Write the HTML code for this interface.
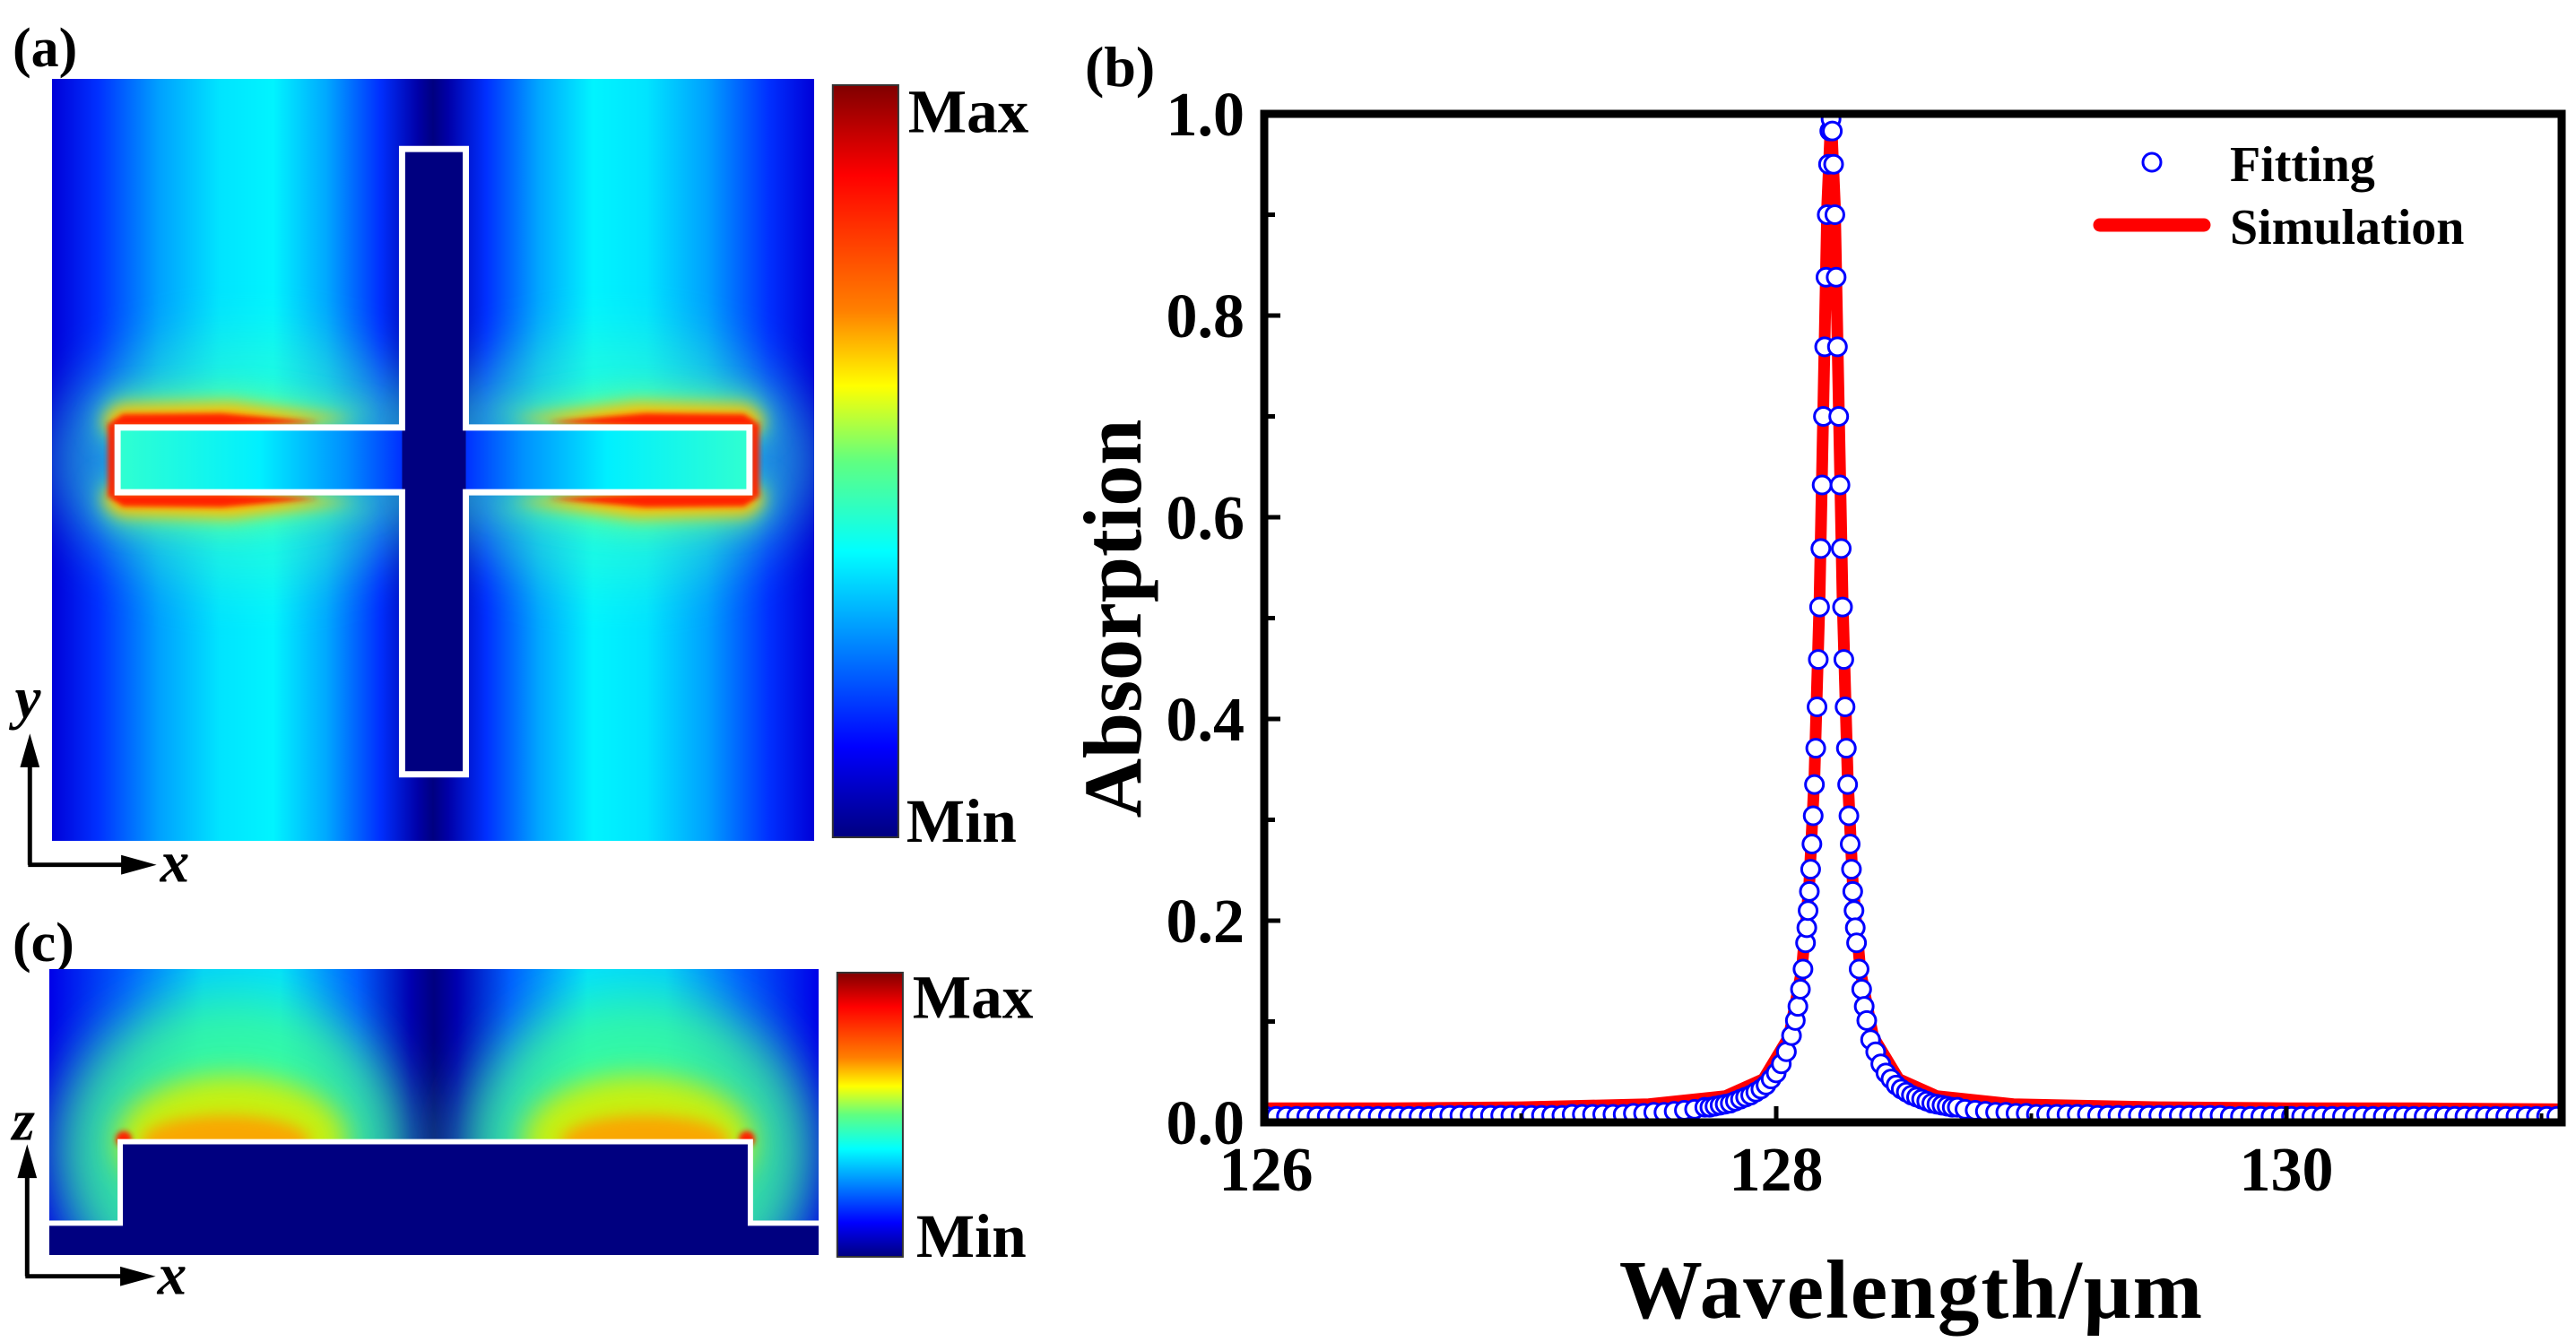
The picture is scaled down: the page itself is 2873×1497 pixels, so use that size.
<!DOCTYPE html>
<html><head><meta charset="utf-8"><style>
html,body{margin:0;padding:0;background:#fff;}
svg{display:block;}
svg text{font-family:"Liberation Serif","DejaVu Serif","Times New Roman",serif !important;font-weight:bold;fill:#000;}
</style></head><body>
<svg id="fig" width="2873" height="1497" viewBox="0 0 2873 1497" xmlns="http://www.w3.org/2000/svg" font-family="Liberation Serif, DejaVu Serif, serif">
<defs>
<linearGradient id="gA" x1="0" x2="1" y1="0" y2="0">
<stop offset="0" stop-color="#0000d8"/><stop offset="0.06" stop-color="#0030ff"/><stop offset="0.14" stop-color="#00a0ff"/><stop offset="0.22" stop-color="#00e4ff"/><stop offset="0.29" stop-color="#00f4ff"/><stop offset="0.36" stop-color="#00a8ff"/><stop offset="0.43" stop-color="#0030ff"/><stop offset="0.48" stop-color="#0000a8"/><stop offset="0.5" stop-color="#000080"/><stop offset="0.52" stop-color="#0000a8"/><stop offset="0.57" stop-color="#0030ff"/><stop offset="0.64" stop-color="#00a8ff"/><stop offset="0.71" stop-color="#00f4ff"/><stop offset="0.78" stop-color="#00e4ff"/><stop offset="0.86" stop-color="#00a0ff"/><stop offset="0.94" stop-color="#0030ff"/><stop offset="1" stop-color="#0000d8"/>
</linearGradient>
<linearGradient id="gC" x1="0" x2="1" y1="0" y2="0">
<stop offset="0" stop-color="#0000e8"/><stop offset="0.1" stop-color="#0060ff"/><stop offset="0.2" stop-color="#00d0ff"/><stop offset="0.3" stop-color="#00e0ff"/><stop offset="0.4" stop-color="#0060ff"/><stop offset="0.47" stop-color="#0000b0"/><stop offset="0.5" stop-color="#000080"/><stop offset="0.53" stop-color="#0000b0"/><stop offset="0.6" stop-color="#0060ff"/><stop offset="0.7" stop-color="#00e0ff"/><stop offset="0.8" stop-color="#00d0ff"/><stop offset="0.9" stop-color="#0060ff"/><stop offset="1" stop-color="#0000e8"/>
</linearGradient>
<linearGradient id="jet" x1="0" x2="0" y1="0" y2="1">
<stop offset="0" stop-color="#800000"/><stop offset="0.12" stop-color="#ff0000"/><stop offset="0.3" stop-color="#ff8000"/><stop offset="0.4" stop-color="#ffff00"/><stop offset="0.5" stop-color="#60ff80"/><stop offset="0.62" stop-color="#00ffff"/><stop offset="0.75" stop-color="#0080ff"/><stop offset="0.88" stop-color="#0000ff"/><stop offset="1" stop-color="#000080"/>
</linearGradient>
<linearGradient id="armFill" x1="0" x2="1" y1="0" y2="0">
<stop offset="0" stop-color="#30ffd0"/><stop offset="0.5" stop-color="#00f0ff"/><stop offset="0.8" stop-color="#0090ff"/><stop offset="1" stop-color="#0030ff"/>
</linearGradient>
<filter id="b3" x="-50%" y="-50%" width="200%" height="200%"><feGaussianBlur stdDeviation="3"/></filter>
<filter id="b8" x="-50%" y="-50%" width="200%" height="200%"><feGaussianBlur stdDeviation="8"/></filter>
<filter id="b15" x="-50%" y="-50%" width="200%" height="200%"><feGaussianBlur stdDeviation="15"/></filter>
<filter id="b30" x="-50%" y="-50%" width="200%" height="200%"><feGaussianBlur stdDeviation="30"/></filter>
<clipPath id="clipA"><rect x="58" y="90" width="860" height="859"/></clipPath>
<clipPath id="clipC"><rect x="56" y="1095" width="868" height="323"/></clipPath>
<clipPath id="clipB"><rect x="1410" y="127" width="1447" height="1125"/></clipPath>
<g id="lobeA">
 <ellipse cx="280" cy="520" rx="230" ry="140" fill="#40ffc0" opacity="0.45" filter="url(#b30)"/>
 <polygon points="112,462 132,446 260,440 440,468 260,496 112,496" fill="#70ff80" opacity="0.7" filter="url(#b15)"/>
 <polygon points="112,578 132,594 260,600 440,572 260,544 112,544" fill="#70ff80" opacity="0.7" filter="url(#b15)"/>
 <polygon points="118,470 134,458 260,455 400,474 260,486 118,486" fill="#ffc000" filter="url(#b8)"/>
 <polygon points="118,570 134,582 260,585 400,566 260,554 118,554" fill="#ffc000" filter="url(#b8)"/>
 <polygon points="126,476 138,468 250,467 360,477 250,482 126,482" fill="#ff2000" filter="url(#b3)"/>
 <polygon points="126,564 138,572 250,573 360,563 250,558 126,558" fill="#ff2000" filter="url(#b3)"/>
 <rect x="121" y="478" width="10" height="84" fill="#ff2000" filter="url(#b3)"/>
</g>
<g id="lobeC">
 <ellipse cx="262" cy="1300" rx="200" ry="175" fill="#40ff90" opacity="0.8" filter="url(#b30)"/>
 <ellipse cx="262" cy="1290" rx="130" ry="75" fill="#d8f000" opacity="0.9" filter="url(#b15)"/>
 <ellipse cx="255" cy="1290" rx="95" ry="30" fill="#ffa000" opacity="0.9" filter="url(#b8)"/>
 <circle cx="140" cy="1287" r="9" fill="#ff2000" filter="url(#b3)"/>
</g>
</defs>

<!-- Panel (a) -->
<text x="14" y="74" font-size="62">(a)</text>
<g transform="matrix(0.9884,0,0,0.9895,0.67,-1.06)">
<g clip-path="url(#clipA)">
 <rect x="58" y="90" width="860" height="859" fill="url(#gA)"/>
 <use href="#lobeA"/>
 <use href="#lobeA" transform="translate(977,0) scale(-1,1)"/>
 <rect x="132" y="483" width="321" height="73" fill="url(#armFill)"/>
 <rect x="525" y="483" width="320" height="73" fill="url(#armFill)" transform="translate(1370,0) scale(-1,1)"/>
 <rect x="453" y="169" width="72" height="705" fill="#000080"/>
 <polygon points="453,169 525,169 525,483 845,483 845,556 525,556 525,874 453,874 453,556 132,556 132,483 453,483" fill="none" stroke="#fff" stroke-width="7"/>
</g>
<rect x="939" y="97" width="74" height="848" fill="url(#jet)" stroke="#333" stroke-width="2"/>
<text x="1024" y="150" font-size="70">Max</text>
<text x="1022" y="950" font-size="70">Min</text>
<g>
 <line x1="33" y1="976" x2="33" y2="860" stroke="#000" stroke-width="5"/>
 <polygon points="33,828 22,866 44,866" fill="#000"/>
 <line x1="31" y1="976" x2="140" y2="976" stroke="#000" stroke-width="5"/>
 <polygon points="176,976 136,965 136,987" fill="#000"/>
 <text x="16" y="810" font-size="66" font-style="italic">y</text>
 <text x="180" y="995" font-size="66" font-style="italic">x</text>
</g>
</g>

<!-- Panel (c) -->
<text x="14" y="1072" font-size="62">(c)</text>
<g transform="matrix(0.9885,0,0,0.9876,-0.36,-0.42)">
<g clip-path="url(#clipC)">
 <rect x="56" y="1095" width="868" height="323" fill="url(#gC)"/>
 <use href="#lobeC"/>
 <use href="#lobeC" transform="translate(983,0) scale(-1,1)"/>
 <polygon points="56,1382 136,1382 136,1290 847,1290 847,1382 924,1382 924,1418 56,1418" fill="#000080"/>
 <polyline points="50,1382 136,1382 136,1290 847,1290 847,1382 930,1382" fill="none" stroke="#fff" stroke-width="6"/>
</g>
<rect x="945" y="1099" width="74" height="321" fill="url(#jet)" stroke="#333" stroke-width="2"/>
<text x="1030" y="1150" font-size="70">Max</text>
<text x="1034" y="1420" font-size="70">Min</text>
<g>
 <line x1="31" y1="1442" x2="31" y2="1325" stroke="#000" stroke-width="5"/>
 <polygon points="31,1293 20,1331 42,1331" fill="#000"/>
 <line x1="29" y1="1442" x2="140" y2="1442" stroke="#000" stroke-width="5"/>
 <polygon points="176,1442 136,1431 136,1453" fill="#000"/>
 <text x="14" y="1288" font-size="66" font-style="italic">z</text>
 <text x="178" y="1462" font-size="66" font-style="italic">x</text>
</g>
</g>

<!-- Panel (b) -->
<text x="1210" y="96" font-size="64">(b)</text>
<g id="chartB">
 <g id="sim" clip-path="url(#clipB)"></g>
 <g id="fit" clip-path="url(#clipB)"></g>
 <rect x="1410" y="127" width="1447" height="1125" fill="none" stroke="#000" stroke-width="9"/>
 <g id="ticks"></g>
 <text x="1242" y="690" font-size="92" text-anchor="middle" transform="rotate(-90 1242 690)" dy="30">Absorption</text>
 <text x="2132" y="1470" font-size="93" text-anchor="middle" letter-spacing="2">Wavelength/μm</text>
 <g>
  <circle cx="2400" cy="181" r="10" fill="#fff" stroke="#0000ff" stroke-width="3"/>
  <text x="2487" y="202" font-size="56">Fitting</text>
  <line x1="2342" y1="251" x2="2458" y2="251" stroke="#ff0000" stroke-width="15" stroke-linecap="round"/>
  <text x="2487" y="272" font-size="56">Simulation</text>
 </g>
</g>
</svg>
<script>
const xTicks = [126, 128, 130];
const xMinor = [127, 129, 131];
const yTicks = [0.0, 0.2, 0.4, 0.6, 0.8, 1.0];
const yTickLabels = ["0.0", "0.2", "0.4", "0.6", "0.8", "1.0"];
const yMinor = [0.1, 0.3, 0.5, 0.7, 0.9];
const simWl = [126, 126.5, 127, 127.5, 127.8, 127.95, 128.05, 128.1, 128.13, 128.15, 128.17, 128.19, 128.2, 128.215, 128.23, 128.24, 128.26, 128.28, 128.3, 128.33, 128.38, 128.48, 128.63, 128.93, 129.5, 130, 130.5, 131.08];
const simAbs = [0.014, 0.014, 0.015, 0.018, 0.026, 0.043, 0.085, 0.150, 0.238, 0.344, 0.520, 0.778, 0.909, 0.998, 0.909, 0.778, 0.520, 0.344, 0.238, 0.150, 0.085, 0.043, 0.026, 0.018, 0.015, 0.014, 0.014, 0.013];
const fitWl = [126.00,126.04,126.08,126.12,126.16,126.20,126.24,126.28,126.32,126.36,126.40,126.44,126.48,126.52,126.56,126.60,126.64,
126.68,126.72,126.76,126.80,126.84,126.88,126.92,126.96,127.00,127.04,127.08,127.12,127.16,
127.20,127.24,127.28,127.32,127.36,127.40,127.44,127.48,127.52,127.56,127.60,127.64,127.68,
127.72,127.74,127.76,127.78,127.80,127.82,127.84,127.86,127.88,127.90,127.92,127.94,127.96,127.98,128.00,128.02,128.04,128.06,
128.075,128.085,128.095,128.105,128.115,128.12,128.125,128.13,128.135,128.14,128.145,128.15,128.155,128.16,128.165,128.17,128.175,128.18,128.185,128.19,128.195,128.20,128.205,128.21,
128.215,
128.22,128.225,128.23,128.235,128.24,128.245,128.25,128.255,128.26,128.265,128.27,128.275,128.28,128.285,128.29,128.295,128.30,128.305,128.31,128.315,128.325,128.335,128.345,128.355,
128.37,128.39,128.41,128.43,128.45,128.47,128.49,128.51,128.53,128.55,128.57,128.59,128.61,128.63,128.65,128.67,128.69,128.71,
128.74,128.78,128.82,128.86,128.90,128.94,128.98,129.02,129.06,129.10,129.14,129.18,129.22,
129.26,129.30,129.34,129.38,129.42,129.46,129.50,129.54,129.58,129.62,129.66,129.70,129.74,
129.78,129.82,129.86,129.90,129.94,129.98,130.02,130.06,130.10,130.14,130.18,130.22,130.26,130.30,130.34,130.38,130.42,130.46,130.50,130.54,130.58,130.62,130.66,130.70,130.74,130.78,130.82,130.86,130.90,130.94,130.98,131.02,131.06];
const fitAbs = [0.006,0.006,0.006,0.006,0.006,0.006,0.006,0.006,0.006,0.006,0.006,0.006,0.006,0.006,0.006,0.006,0.006,
0.007,0.007,0.007,0.007,0.007,0.007,0.007,0.007,0.007,0.007,0.007,0.007,0.007,
0.008,0.008,0.008,0.008,0.008,0.008,0.009,0.009,0.010,0.010,0.011,0.012,0.013,
0.015,0.015,0.016,0.017,0.018,0.019,0.021,0.023,0.025,0.027,0.030,0.033,0.037,0.043,0.049,0.058,0.070,0.086,
0.101,0.115,0.132,0.152,0.178,0.193,0.210,0.229,0.251,0.276,0.304,0.335,0.371,0.412,0.459,0.511,0.569,0.632,0.700,0.769,0.838,0.900,0.950,0.983,
0.995,
0.983,0.950,0.900,0.838,0.769,0.700,0.632,0.569,0.511,0.459,0.412,0.371,0.335,0.304,0.276,0.251,0.229,0.210,0.193,0.178,0.152,0.132,0.115,0.101,
0.082,0.070,0.058,0.049,0.043,0.037,0.033,0.030,0.027,0.025,0.023,0.021,0.019,0.018,0.017,0.016,0.015,0.015,
0.013,0.012,0.011,0.010,0.010,0.009,0.009,0.008,0.008,0.008,0.008,0.008,0.008,
0.007,0.007,0.007,0.007,0.007,0.007,0.007,0.007,0.007,0.007,0.007,0.007,0.007,
0.006,0.006,0.006,0.006,0.006,0.006,0.006,0.006,0.006,0.006,0.006,0.006,0.006,0.006,0.006,0.006,0.006,0.006,0.006,0.006,0.006,0.006,0.006,0.006,0.006,0.006,0.006,0.006,0.006,0.006,0.006,0.006,0.006];

const NS = "http://www.w3.org/2000/svg";
const X0 = 1412, XPX = 284.5, Y0 = 1252, YPX = 1125;
function sx(v){ return X0 + (v - 126) * XPX; }
function sy(v){ return Y0 - v * YPX; }
function mk(tag, attrs){ const e = document.createElementNS(NS, tag); for (const k in attrs) e.setAttribute(k, attrs[k]); return e; }

const sim = document.getElementById('sim');
const simLine = mk('polyline', {points: simWl.map((w,i)=>sx(w)+','+sy(simAbs[i])).join(' '), fill:'none', stroke:'#ff0000', 'stroke-width':13, 'stroke-linejoin':'round', 'stroke-linecap':'round'});


sim.appendChild(simLine);

const fit = document.getElementById('fit');
fitWl.forEach((w,i)=>{
  const c = mk('circle', {cx:sx(w), cy:sy(fitAbs[i]), r:10, fill:'#fff', stroke:'#0000ff', 'stroke-width':3});
  
  
  fit.appendChild(c);
});

const ticks = document.getElementById('ticks');
xTicks.forEach(v=>{
  const t = mk('line', {x1:sx(v), x2:sx(v), y1:1252, y2:1234, stroke:'#000', 'stroke-width':5});
  
  
  ticks.appendChild(t);
  const l = mk('text', {x:sx(v), y:1328, 'font-size':70, 'text-anchor':'middle'});
  l.textContent = String(v);
  
  
  ticks.appendChild(l);
});
xMinor.forEach(v=>{
  const t = mk('line', {x1:sx(v), x2:sx(v), y1:1252, y2:1242, stroke:'#000', 'stroke-width':4});
  
  
  ticks.appendChild(t);
});
yTicks.forEach((v,i)=>{
  const t = mk('line', {x1:1410, x2:1428, y1:sy(v), y2:sy(v), stroke:'#000', 'stroke-width':5});
  
  
  ticks.appendChild(t);
  const l = mk('text', {x:1388, y:sy(v)+24, 'font-size':70, 'text-anchor':'end'});
  l.textContent = yTickLabels[i];
  
  
  ticks.appendChild(l);
});
yMinor.forEach(v=>{
  const t = mk('line', {x1:1410, x2:1422, y1:sy(v), y2:sy(v), stroke:'#000', 'stroke-width':5});
  
  
  ticks.appendChild(t);
});
</script>
</body></html>
